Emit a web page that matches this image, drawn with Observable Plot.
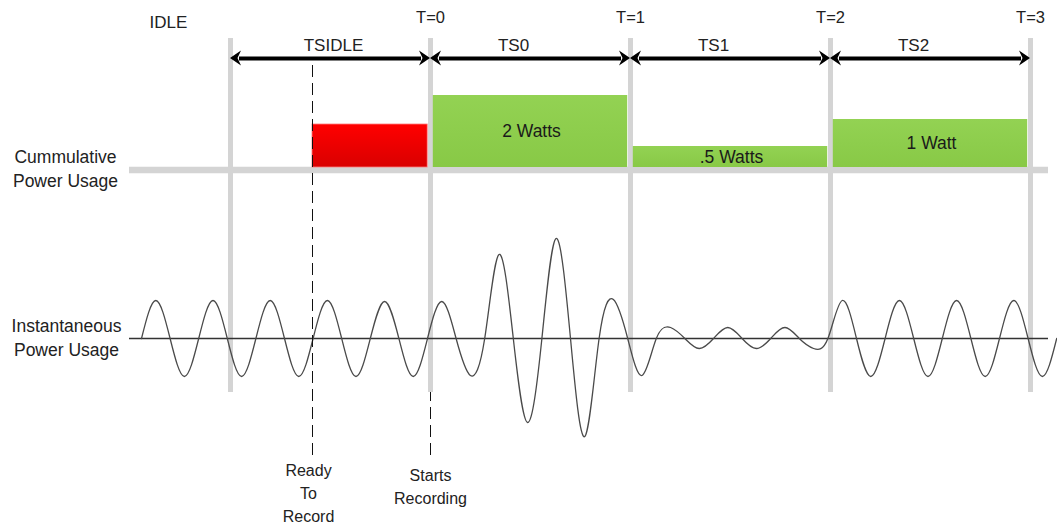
<!DOCTYPE html>
<html>
<head>
<meta charset="utf-8">
<script src="https://cdn.jsdelivr.net/npm/d3@7"></script>
<script src="https://cdn.jsdelivr.net/npm/@observablehq/plot@0.6"></script>
<style>
  html, body { margin: 0; padding: 0; background: #ffffff; }
  #chart svg { display: block; }
</style>
</head>
<body>
<div id="chart"></div>
<script>
// ---------------- data ----------------
const slotNames  = ["TSIDLE", "TS0", "TS1", "TS2"];
const slotStart  = [-1, 0, 1, 2];
const slotEnd    = [0, 1, 2, 3];
const gridTimes  = [-1, 0, 1, 2, 3];
const tickTimes  = [0, 1, 2, 3];
const tickLabels = ["T=0", "T=1", "T=2", "T=3"];

const barStart     = [-0.59, 0, 1, 2];
const barEnd       = [0, 1, 2, 3];
const barHeight    = [43, 72, 21, 48];           // drawn heights of the cumulative blocks
const barLabels    = ["", "2 Watts", ".5 Watts", "1 Watt"];
const barGradients = ["gradRed", "gradGreen", "gradGreen", "gradGreen"];
const barEdges     = ["#ff7a7a", "none", "none", "none"];

// peak / trough size of every half-cycle of the instantaneous power wave
const waveAmp = [38, 38, 38, 38, 38, 38, 38, 38, 37, 38, 37, 37,
                 84, 84, 100, 98, 39, 37,
                 11, 10, 11, 10, 11, 10,
                 38, 38, 38, 38, 38, 38, 38, 38];
const waveStart = -1.445;   // time where the wave begins
const waveHalf  = 0.143;    // half period

const readyTime  = -0.59;   // "Ready To Record"
const recordTime = 0;       // "Starts Recording"

// ---------------- layout constants ----------------
const BAR_BASE = 171, BASELINE_Y = 168.5, ARROW_Y = 280;
const GRID_TOP = 300, GRID_BOTTOM = -54;
const LINE_LEFT = -1.505, LINE_RIGHT = 3.09;

// ---------------- derived tables ----------------
const bars = barHeight.map((h, i) => ({
  x1: barStart[i], x2: barEnd[i], y1: BAR_BASE, y2: BAR_BASE + h, label: barLabels[i],
  fill: `url(#${barGradients[i]})`, edge: barEdges[i], first: i === 0
}));
const slots = slotNames.map((n, i) => ({name: n, x1: slotStart[i], x2: slotEnd[i]}));
const heads = slots.flatMap(s => [
  {x: s.x1, rotate: 180, dx: 2.5},
  {x: s.x2, rotate: 0, dx: -2.5}
]);
const wave = [];
waveAmp.forEach((a, i) => {
  wave.push({t: waveStart + i * waveHalf, v: 0});
  wave.push({t: waveStart + (i + 0.5) * waveHalf, v: i % 2 === 0 ? a : -a});
});
wave.push({t: waveStart + waveAmp.length * waveHalf, v: 0});

const arrowHead = {
  draw(ctx) {
    ctx.moveTo(0, 0);
    ctx.lineTo(-11, -7.5);
    ctx.lineTo(-7.5, 0);
    ctx.lineTo(-11, 7.5);
    ctx.closePath();
  }
};

const txt = "#222222";
const chart = Plot.plot({
  width: 1057,
  height: 525,
  margin: 0,
  x: {domain: [-2.15, 3.135], axis: null},
  y: {domain: [-187, 338], axis: null},
  color: {type: "identity"},
  style: {fontFamily: "'Liberation Sans', Arial, sans-serif", fontSize: "17px", background: "#ffffff", color: txt},
  marks: [
    // gray time dividers
    Plot.ruleX(gridTimes, {x: d => d, y1: GRID_BOTTOM, y2: GRID_TOP, stroke: "#d4d4d4", strokeWidth: 5}),
    // gray baseline of cumulative power
    Plot.ruleY([BASELINE_Y], {x1: LINE_LEFT, x2: LINE_RIGHT, stroke: "#d4d4d4", strokeWidth: 6.5}),
    // cumulative power blocks (idle block starts at the dashed marker, slot blocks sit between dividers)
    Plot.rect(bars, {filter: d => d.first, x1: "x1", x2: "x2", y1: "y1", y2: "y2", insetRight: 2.8,
      fill: d => d.fill, stroke: d => d.edge, strokeWidth: 0.8}),
    Plot.rect(bars, {filter: d => !d.first, x1: "x1", x2: "x2", y1: "y1", y2: "y2", insetLeft: 2.8, insetRight: 2.8,
      fill: d => d.fill}),
    Plot.text(bars, {x: d => (d.x1 + d.x2) / 2, y: d => (d.y1 + d.y2) / 2, text: "label",
      fontSize: 17.5, fill: "#1a1a1a", dx: 1}),
    // wave axis + wave
    Plot.ruleY([0], {x1: LINE_LEFT, x2: LINE_RIGHT, stroke: "#333333", strokeWidth: 1.4}),
    Plot.line(wave, {x: "t", y: "v", curve: "natural", stroke: "#4a4a4a", strokeWidth: 1.3}),
    // dashed event markers
    Plot.ruleX([readyTime], {y1: -117, y2: 278, stroke: "#111", strokeWidth: 1, strokeDasharray: "12,6"}),
    Plot.ruleX([recordTime], {y1: -117, y2: GRID_BOTTOM, stroke: "#111", strokeWidth: 1, strokeDasharray: "12,6"}),
    // double arrows
    Plot.ruleY(slots, {x1: "x1", x2: "x2", y: ARROW_Y, insetLeft: 9, insetRight: 9, stroke: "#000", strokeWidth: 4}),
    Plot.dot(heads, {x: "x", y: ARROW_Y, rotate: "rotate", dx: "dx", symbol: arrowHead, fill: "#000", stroke: "none", r: 5}),
    // slot names
    Plot.text(slots, {x: d => (d.x1 + d.x2) / 2 + (d.name === "TSIDLE" ? 0.015 : -0.085), y: 293, text: "name", fontSize: 17, fill: txt}),
    // tick labels
    Plot.text(tickTimes, {x: d => d, y: 321, text: (d, i) => tickLabels[i], fontSize: 16.5, fill: txt}),
    Plot.text(["IDLE"], {x: -1.31, y: 316, text: d => d, fontSize: 17, fill: txt}),
    // row labels
    Plot.text(["Cummulative\nPower Usage"], {x: -1.825, y: 171, text: d => d, fontSize: 17.5, lineHeight: 1.37, fill: txt}),
    Plot.text(["Instantaneous\nPower Usage"], {x: -1.82, y: 2.5, text: d => d, fontSize: 17.5, lineHeight: 1.42, fill: txt}),
    // event labels
    Plot.text(["Ready\nTo\nRecord"], {x: readyTime, y: -153, dx: -4, text: d => d, fontSize: 16, lineHeight: 1.43, fill: txt}),
    Plot.text(["Starts\nRecording"], {x: recordTime, y: -146.5, text: d => d, fontSize: 16, lineHeight: 1.43, fill: txt})
  ]
});

// gradients for the blocks
const svgNode = chart.tagName.toLowerCase() === "svg" ? chart : chart.querySelector("svg");
const defs = d3.select(svgNode).insert("defs", ":first-child");
const gRed = defs.append("linearGradient").attr("id", "gradRed").attr("x1", 0).attr("y1", 0).attr("x2", 0).attr("y2", 1);
gRed.append("stop").attr("offset", "0%").attr("stop-color", "#ff0000");
gRed.append("stop").attr("offset", "100%").attr("stop-color", "#d90000");
const gGreen = defs.append("linearGradient").attr("id", "gradGreen").attr("x1", 0).attr("y1", 0).attr("x2", 0).attr("y2", 1);
gGreen.append("stop").attr("offset", "0%").attr("stop-color", "#93d253");
gGreen.append("stop").attr("offset", "100%").attr("stop-color", "#88c946");

document.getElementById("chart").appendChild(chart);
</script>
</body>
</html>
